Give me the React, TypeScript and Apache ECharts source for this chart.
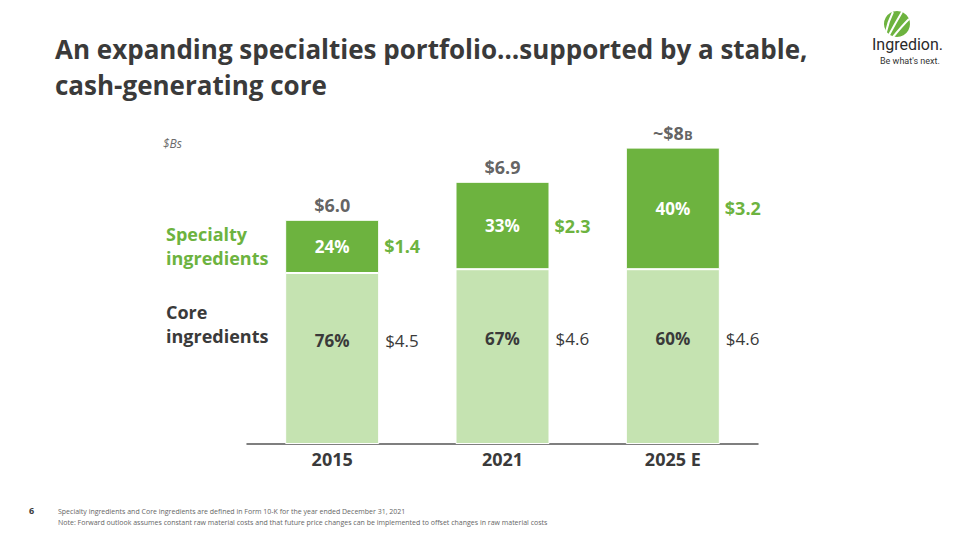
import React, { useEffect, useRef } from "react";
import * as echarts from "echarts";

const categories = ["2015", "2021", "2025 E"];
const coreValues = [4.5, 4.6, 4.6];
const specialtyValues = [1.4, 2.3, 3.2];
const corePct = ["76%", "67%", "60%"];
const specialtyPct = ["24%", "33%", "40%"];
const coreLabels = ["$4.5", "$4.6", "$4.6"];
const specialtyLabels = ["$1.4", "$2.3", "$3.2"];
const totalLabels = ["$6.0", "$6.9", "~$8"];
const titleLines = [
  "An expanding specialties portfolio…supported by a stable,",
  "cash-generating core",
];

const totalValues = coreValues.map((v, i) => v + specialtyValues[i]);

const FONT = "'Open Sans', Lato, sans-serif";
const DARK = "#3a3a3a";
const GREEN = "#6db33f";
const LIGHT = "#c5e3b1";
const BAR_W = 94;

export default function App() {
  const ref = useRef<HTMLDivElement>(null);
  useEffect(() => {
    if (!ref.current) return;
    const chart = echarts.init(ref.current, null, { renderer: "svg" });
    chart.setOption({
      animation: false,
      backgroundColor: "#ffffff",
      textStyle: { fontFamily: FONT },
      grid: { left: 247, right: 202, top: 64, bottom: 96 },
      xAxis: {
        type: "category",
        data: categories,
        axisTick: { show: false },
        axisLine: { lineStyle: { color: "#555555", width: 1.5 } },
        axisLabel: { color: DARK, fontSize: 18, fontWeight: "bold", fontFamily: FONT, margin: 6 },
      },
      yAxis: { type: "value", min: 0, max: 10, show: false, splitLine: { show: false } },
      series: [
        {
          type: "bar",
          stack: "t",
          data: coreValues,
          barWidth: BAR_W,
          itemStyle: { color: LIGHT, borderColor: "#ffffff", borderWidth: 1 },
          label: {
            show: true,
            position: "insideLeft",
            distance: 0,
            offset: [0, -18],
            formatter: (p: any) => `{p|${corePct[p.dataIndex]}}{g|}{v|${coreLabels[p.dataIndex]}}`,
            rich: {
              p: { width: BAR_W, align: "center", color: DARK, fontSize: 17, fontWeight: "bold", fontFamily: FONT },
              g: { width: 6 },
              v: { color: DARK, fontSize: 17, fontFamily: FONT },
            },
          },
        },
        {
          type: "bar",
          stack: "t",
          data: specialtyValues,
          barWidth: BAR_W,
          itemStyle: { color: GREEN, borderColor: "#ffffff", borderWidth: 1 },
          label: {
            show: true,
            position: "insideLeft",
            distance: 0,
            formatter: (p: any) => `{p|${specialtyPct[p.dataIndex]}}{g|}{v|${specialtyLabels[p.dataIndex]}}`,
            rich: {
              p: { width: BAR_W, align: "center", color: "#ffffff", fontSize: 17, fontWeight: "bold", fontFamily: FONT },
              g: { width: 5 },
              v: { color: GREEN, fontSize: 18, fontWeight: "bold", fontFamily: FONT },
            },
          },
        },
        {
          type: "scatter",
          data: totalValues,
          symbolSize: 0,
          silent: true,
          label: {
            show: true,
            position: "top",
            distance: 6,
            formatter: (p: any) =>
              p.dataIndex === 2 ? `{t|${totalLabels[p.dataIndex]}}{s|B}` : `{t|${totalLabels[p.dataIndex]}}`,
            rich: {
              t: { color: DARK, fontSize: 18, fontWeight: "bold", fontFamily: FONT },
              s: { color: DARK, fontSize: 13, fontWeight: "bold", fontFamily: FONT, verticalAlign: "bottom", padding: [3, 0, 0, 0] },
            },
          },
        },
      ],
      graphic: [
        {
          type: "text",
          x: 55,
          y: 48.5,
          style: { text: titleLines[0], fill: DARK, font: `bold 26px ${FONT}`, verticalAlign: "middle" },
        },
        {
          type: "text",
          x: 55,
          y: 84.5,
          style: { text: titleLines[1], fill: DARK, font: `bold 26px ${FONT}`, verticalAlign: "middle" },
        },
        {
          type: "text",
          left: 163,
          top: 137,
          style: { text: "$Bs", fill: "#6b6b6b", font: `italic 12px ${FONT}` },
        },
        {
          type: "text",
          left: 166,
          top: 222,
          style: { text: "Specialty\ningredients", fill: GREEN, font: `bold 18px ${FONT}`, lineHeight: 24 },
        },
        {
          type: "text",
          left: 166,
          top: 300,
          style: { text: "Core\ningredients", fill: DARK, font: `bold 18px ${FONT}`, lineHeight: 24 },
        },
        {
          type: "text",
          left: 29,
          top: 506,
          style: { text: "6", fill: DARK, font: `bold 9px ${FONT}` },
        },
        {
          type: "text",
          left: 58,
          top: 506,
          style: {
            text:
              "Specialty ingredients and Core ingredients are defined in Form 10-K for the year ended December 31, 2021\nNote: Forward outlook assumes constant raw material costs and that future price changes can be implemented to offset changes in raw material costs",
            fill: "#666666",
            font: `7px ${FONT}`,
            lineHeight: 11,
          },
        },
        // logo
        {
          type: "circle",
          shape: { cx: 897, cy: 24, r: 13 },
          style: { fill: GREEN },
        },
        {
          type: "bezierCurve",
          shape: { x1: 886, y1: 32, x2: 893, y2: 12, cpx1: 888, cpy1: 22 },
          style: { stroke: "#ffffff", lineWidth: 2, fill: null },
        },
        {
          type: "bezierCurve",
          shape: { x1: 889, y1: 35, x2: 902, y2: 12, cpx1: 896, cpy1: 22 },
          style: { stroke: "#ffffff", lineWidth: 2, fill: null },
        },
        {
          type: "bezierCurve",
          shape: { x1: 893, y1: 37, x2: 909, y2: 19, cpx1: 902, cpy1: 26 },
          style: { stroke: "#ffffff", lineWidth: 2, fill: null },
        },
        {
          type: "text",
          left: 872,
          top: 36,
          style: { text: "Ingredion.", fill: "#2a2a2a", font: `16px Roboto, sans-serif` },
        },
        {
          type: "text",
          left: 880,
          top: 56,
          style: { text: "Be what's next.", fill: "#333333", font: `9px Roboto, sans-serif` },
        },
      ],
    });
    return () => chart.dispose();
  }, []);
  return <div ref={ref} style={{ position: "fixed", left: 0, top: 0, width: 960, height: 540 }} />;
}
